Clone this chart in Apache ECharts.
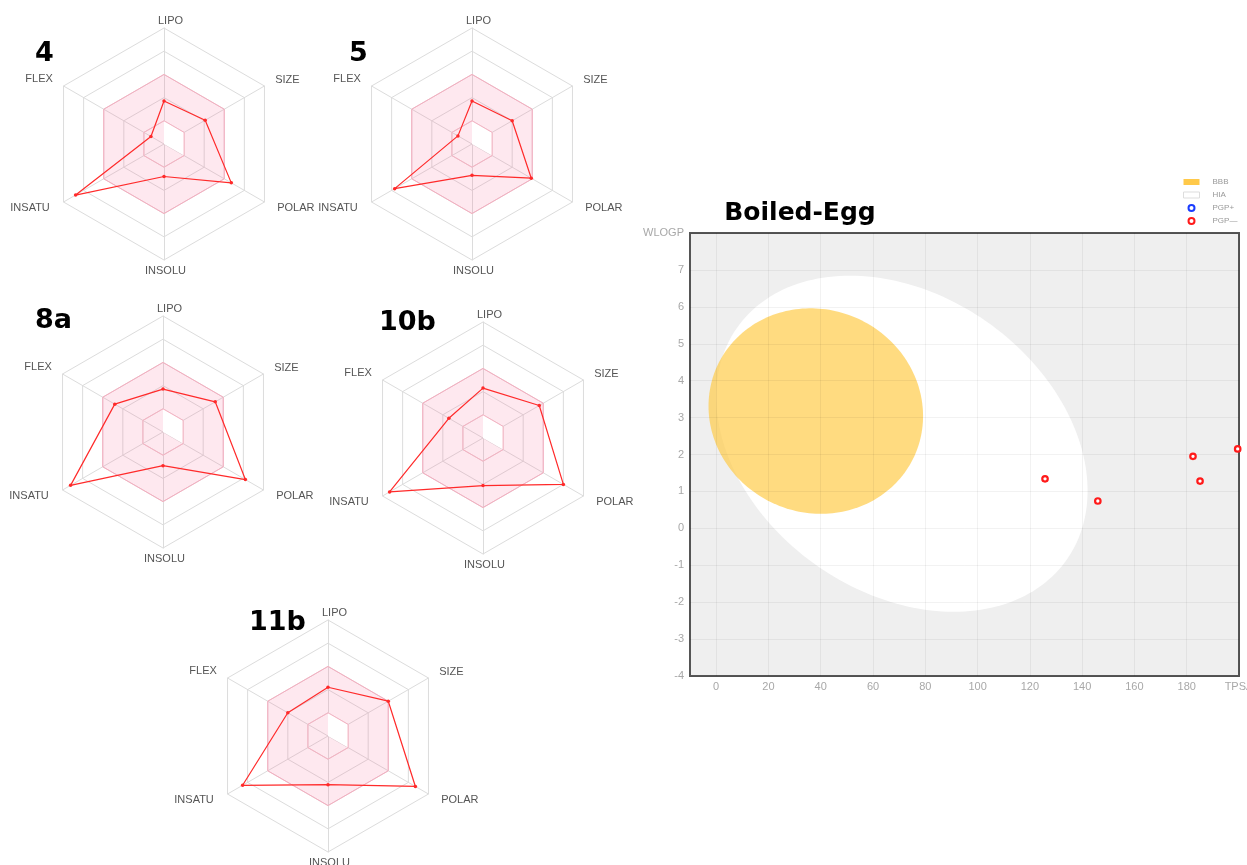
<!DOCTYPE html>
<html>
<head>
<meta charset="utf-8">
<title>Bioavailability radars and Boiled-Egg</title>
<script src="https://cdn.jsdelivr.net/npm/echarts@6/dist/echarts.min.js"></script>
<style>
  html, body { margin: 0; padding: 0; background: #fff; }
  #chart { width: 1247px; height: 865px; }
</style>
</head>
<body>
<div id="chart"></div>
<script>
// ---- Bioavailability radar data (normalised 0..1, six properties) ----
// Indicator order follows ECharts' counter-clockwise layout starting at the top.
const radarAxes = ['LIPO', 'FLEX', 'INSATU', 'INSOLU', 'POLAR', 'SIZE'];
const compoundNames = ['4', '5', '8a', '10b', '11b'];
const values4   = [0.37, 0.13, 0.88, 0.28, 0.67, 0.41];
const values5   = [0.37, 0.14, 0.77, 0.27, 0.59, 0.40];
const values8a  = [0.37, 0.48, 0.92, 0.29, 0.82, 0.52];
const values10b = [0.43, 0.34, 0.93, 0.41, 0.80, 0.56];
const values11b = [0.42, 0.40, 0.85, 0.42, 0.87, 0.60];
// Optimal physicochemical range shown as the pink band
const bandOuter = [0.6, 0.6, 0.6, 0.6, 0.6, 0.6];
const bandInner = [0.2, 0.2, 0.2, 0.2, 0.2, 0.2];
const bandHole  = [0.2, 0, 0, 0, 0.2, 0.2];

// ---- Boiled-Egg data ----
const tpsa  = [125.8, 146.0, 182.4, 185.1, 199.5];
const wlogp = [1.34, 0.74, 1.95, 1.28, 2.15];
const tpsaTicks  = [0, 20, 40, 60, 80, 100, 120, 140, 160, 180, 200];
const tpsaLabels = ['0', '20', '40', '60', '80', '100', '120', '140', '160', '180', 'TPSA'];
const wlogpTicks  = [-4, -3, -2, -1, 0, 1, 2, 3, 4, 5, 6, 7, 8];
const wlogpLabels = ['-4', '-3', '-2', '-1', '0', '1', '2', '3', '4', '5', '6', '7', 'WLOGP'];
// Ellipses: [centre TPSA, centre WLOGP, semi-axis TPSA, semi-axis WLOGP, rotation deg]
const hiaEllipse = [71.051, 2.292, 71.04, 4.37, -1.031];
const bbbEllipse = [38.117, 3.177, 41.03, 2.78, -0.19];
const legendNames = ['BBB', 'HIA', 'PGP+', 'PGP\u2014'];

const allValues = [values4, values5, values8a, values10b, values11b];
const radarCenters = [[164, 144], [472, 144], [163, 432], [483, 438], [328, 736]];
const numberPos = [[35, 40], [349, 40], [35, 307], [379, 309], [249, 609]];

const labelKey = { LIPO: 't', FLEX: 'lt', INSATU: 'lb', INSOLU: 'b', POLAR: 'rb', SIZE: 'rt' };
const labelFont = { fontFamily: 'Liberation Sans', fontSize: 11, color: '#555' };
const rich = {
  t:  Object.assign({ padding: [0, 0, 0, 13] }, labelFont),
  b:  Object.assign({ padding: [3, 0, 0, 3] }, labelFont),
  rt: Object.assign({ padding: [0, 0, 10, 9] }, labelFont),
  rb: Object.assign({ padding: [10, 0, 0, 11] }, labelFont),
  lt: Object.assign({ padding: [0, 9, 12, 0] }, labelFont),
  lb: Object.assign({ padding: [10, 12, 0, 0] }, labelFont)
};

const radars = radarCenters.map(c => ({
  center: c,
  radius: 116,
  startAngle: 90,
  shape: 'polygon',
  splitNumber: 5,
  nameGap: 2,
  indicator: radarAxes.map(n => ({ name: n, min: 0, max: 1 })),
  axisName: {
    formatter: name => '{' + labelKey[name] + '|' + name + '}',
    rich: rich
  },
  axisLine: { lineStyle: { color: '#dcdcdc', width: 1 } },
  splitLine: { lineStyle: { color: '#dcdcdc', width: 1 } },
  splitArea: { show: false }
}));

const series = [];
allValues.forEach((vals, i) => {
  series.push({
    type: 'radar',
    radarIndex: i,
    silent: true,
    symbol: 'none',
    z: 1,
    data: [
      { value: bandOuter, lineStyle: { color: '#f6b2c2', width: 1 }, areaStyle: { color: 'rgba(250,100,150,0.15)', opacity: 1 } },
      { value: bandHole, lineStyle: { width: 0, opacity: 0 }, areaStyle: { color: '#ffffff', opacity: 1 } },
      { value: bandInner, lineStyle: { color: '#f6b2c2', width: 1 }, areaStyle: { opacity: 0 } }
    ]
  });
  series.push({
    type: 'radar',
    radarIndex: i,
    name: 'compound ' + compoundNames[i],
    z: 3,
    symbol: 'circle',
    symbolSize: 3.5,
    itemStyle: { color: '#ff2a2a' },
    lineStyle: { color: '#ff2a2a', width: 1.2 },
    data: [{ value: vals }]
  });
});

function ellipseItem(params, api) {
  const cx = api.value(0), cy = api.value(1), a = api.value(2), b = api.value(3);
  const th = api.value(4) * Math.PI / 180;
  const pts = [];
  const n = 200;
  for (let k = 0; k < n; k++) {
    const t = k / n * Math.PI * 2;
    const x = cx + a * Math.cos(t) * Math.cos(th) - b * Math.sin(t) * Math.sin(th);
    const y = cy + a * Math.cos(t) * Math.sin(th) + b * Math.sin(t) * Math.cos(th);
    pts.push(api.coord([x, y]));
  }
  return { type: 'polygon', shape: { points: pts }, style: api.style() };
}

series.push({
  type: 'custom', name: 'HIA', xAxisIndex: 0, yAxisIndex: 0, clip: true, silent: true, z: 1,
  renderItem: ellipseItem,
  itemStyle: { color: '#ffffff' },
  encode: { x: 0, y: 1 },
  data: [hiaEllipse]
});
series.push({
  type: 'custom', name: 'BBB', xAxisIndex: 0, yAxisIndex: 0, clip: true, silent: true, z: 2,
  renderItem: ellipseItem,
  itemStyle: { color: 'rgba(255,200,60,0.65)' },
  encode: { x: 0, y: 1 },
  data: [bbbEllipse]
});
series.push({
  type: 'scatter', name: 'PGP+', xAxisIndex: 0, yAxisIndex: 0, z: 10,
  symbol: 'circle', symbolSize: 5.5,
  itemStyle: { color: '#ffffff', borderColor: '#1a3cff', borderWidth: 2, opacity: 1 },
  data: []
});
series.push({
  type: 'scatter', name: 'PGP\u2014', xAxisIndex: 0, yAxisIndex: 0, z: 10,
  symbol: 'circle', symbolSize: 5.5,
  itemStyle: { color: '#ffffff', borderColor: '#ff1a1a', borderWidth: 2.2, opacity: 1 },
  data: tpsa.map((x, i) => [x, wlogp[i]])
});

const titles = compoundNames.map((n, i) => ({
  text: n,
  left: numberPos[i][0],
  top: numberPos[i][1],
  padding: 0,
  textStyle: { fontFamily: 'DejaVu Sans', fontWeight: 'bold', fontSize: 27, color: '#000' }
}));
titles.push({
  text: 'Boiled-Egg',
  left: 800,
  top: 201,
  textAlign: 'center',
  padding: 0,
  textStyle: { fontFamily: 'DejaVu Sans', fontWeight: 'bold', fontSize: 25, color: '#000' }
});

const axisLabelStyle = { fontFamily: 'Liberation Sans', fontSize: 11, color: '#a8a8a8' };
// Grid lines are drawn above the egg so they stay faintly visible through it
const gridLineStyle = { color: 'rgba(0,0,0,0.05)', width: 1 };

const option = {
  animation: false,
  backgroundColor: '#ffffff',
  title: titles,
  radar: radars,
  legend: {
    orient: 'vertical',
    left: 1183,
    top: 178,
    itemWidth: 16,
    itemHeight: 6,
    itemGap: 5,
    padding: 0,
    selectedMode: false,
    textStyle: { fontFamily: 'Liberation Sans', fontSize: 8, color: '#999', padding: [0, 0, 0, 8] },
    data: [
      { name: legendNames[0], icon: 'rect', itemStyle: { color: '#ffc94a', borderWidth: 0 } },
      { name: legendNames[1], icon: 'rect', itemStyle: { color: '#ffffff', borderColor: '#dddddd', borderWidth: 1 } },
      { name: legendNames[2], icon: 'circle', itemStyle: { color: '#ffffff', borderColor: '#1a3cff', borderWidth: 2 } },
      { name: legendNames[3], icon: 'circle', itemStyle: { color: '#ffffff', borderColor: '#ff1a1a', borderWidth: 2 } }
    ]
  },
  grid: {
    left: 690, top: 233, width: 549, height: 443,
    outerBoundsMode: 'none',
    containLabel: false,
    show: true, backgroundColor: '#efefef', borderColor: '#555', borderWidth: 2
  },
  xAxis: {
    type: 'value', min: -10, max: 200, z: 5,
    axisLine: { show: false },
    axisTick: { show: false, customValues: tpsaTicks },
    axisLabel: Object.assign({
      customValues: tpsaTicks, margin: 5, showMaxLabel: true,
      formatter: v => tpsaLabels[tpsaTicks.indexOf(v)]
    }, axisLabelStyle),
    splitLine: { show: true, lineStyle: gridLineStyle }
  },
  yAxis: {
    type: 'value', min: -4, max: 8, interval: 1, z: 5,
    axisLine: { show: false },
    axisTick: { show: false },
    axisLabel: Object.assign({
      margin: 6, showMaxLabel: true, showMinLabel: true,
      formatter: v => wlogpLabels[wlogpTicks.indexOf(v)]
    }, axisLabelStyle),
    splitLine: { show: true, lineStyle: gridLineStyle }
  },
  series: series
};

const chart = echarts.init(document.getElementById('chart'), null, { renderer: 'canvas' });
chart.setOption(option);
</script>
</body>
</html>
